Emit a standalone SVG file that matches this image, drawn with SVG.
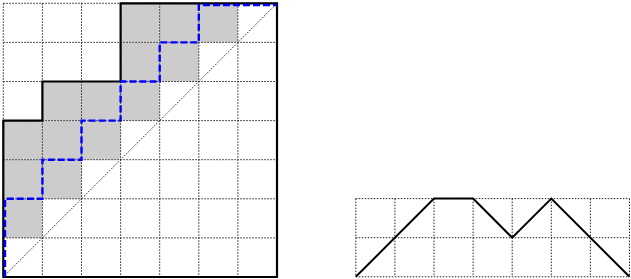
<svg xmlns="http://www.w3.org/2000/svg" width="631" height="279" viewBox="0 0 631 279">
<style>
.bg{fill:#ffffff}
.cell{fill:#cccccc;stroke:none}
.grid{fill:none;stroke:#222222;stroke-width:1;stroke-dasharray:1.5 1.5}
.diag{fill:none;stroke:#222222;stroke-width:1;stroke-dasharray:1.5 1.5}
.outline{fill:none;stroke:#000000;stroke-width:2.2;stroke-linejoin:miter}
.blue{fill:none;stroke:#0000ff;stroke-width:2.4;stroke-dasharray:7 3}
.path{fill:none;stroke:#000000;stroke-width:2;stroke-linejoin:miter}
</style>
<rect class="bg" x="0" y="0" width="631" height="279"/>
<g id="left-figure">
  <g id="shaded-cells">
    <rect class="cell" x="120.6" y="3.3" width="117.3" height="39.1"/>
    <rect class="cell" x="120.6" y="42.4" width="78.2" height="39.1"/>
    <rect class="cell" x="42.4" y="81.5" width="117.3" height="39.1"/>
    <rect class="cell" x="3.3" y="120.6" width="117.3" height="39.1"/>
    <rect class="cell" x="3.3" y="159.7" width="78.2" height="39.1"/>
    <rect class="cell" x="3.3" y="198.8" width="39.1" height="39.1"/>
  </g>
  <g id="left-grid">
    <path class="grid" d="M3.3 3.3V277M42.4 3.3V277M81.5 3.3V277M120.6 3.3V277M159.7 3.3V277M198.8 3.3V277M237.9 3.3V277M277 3.3V277"/>
    <path class="grid" d="M3.3 3.3H277M3.3 42.4H277M3.3 81.5H277M3.3 120.6H277M3.3 159.7H277M3.3 198.8H277M3.3 237.9H277M3.3 277H277"/>
  </g>
  <path id="diagonal" class="diag" d="M3.3 277L277 3.3"/>
  <path id="outline" class="outline" d="M3.3 277V120.6H42.4V81.5H120.6V3.3H277V277Z"/>
  <path id="blue-path" class="blue" d="M5 277V198.8H42.4V159.7H81.5V120.6H120.6V81.5H159.7V42.4H198.8V5H277"/>
</g>
<g id="right-figure">
  <g id="right-grid">
    <path class="grid" d="M355.8 198.6V276.8M394.9 198.6V276.8M434 198.6V276.8M473.1 198.6V276.8M512.2 198.6V276.8M551.3 198.6V276.8M590.4 198.6V276.8M629.5 198.6V276.8"/>
    <path class="grid" d="M355.8 198.6H629.5M355.8 237.7H629.5M355.8 276.8H629.5"/>
  </g>
  <path id="lattice-path" class="path" d="M355.8 276.8L434 198.6H473.1L512.2 237.7L551.3 198.6L629.5 276.8"/>
</g>
</svg>
